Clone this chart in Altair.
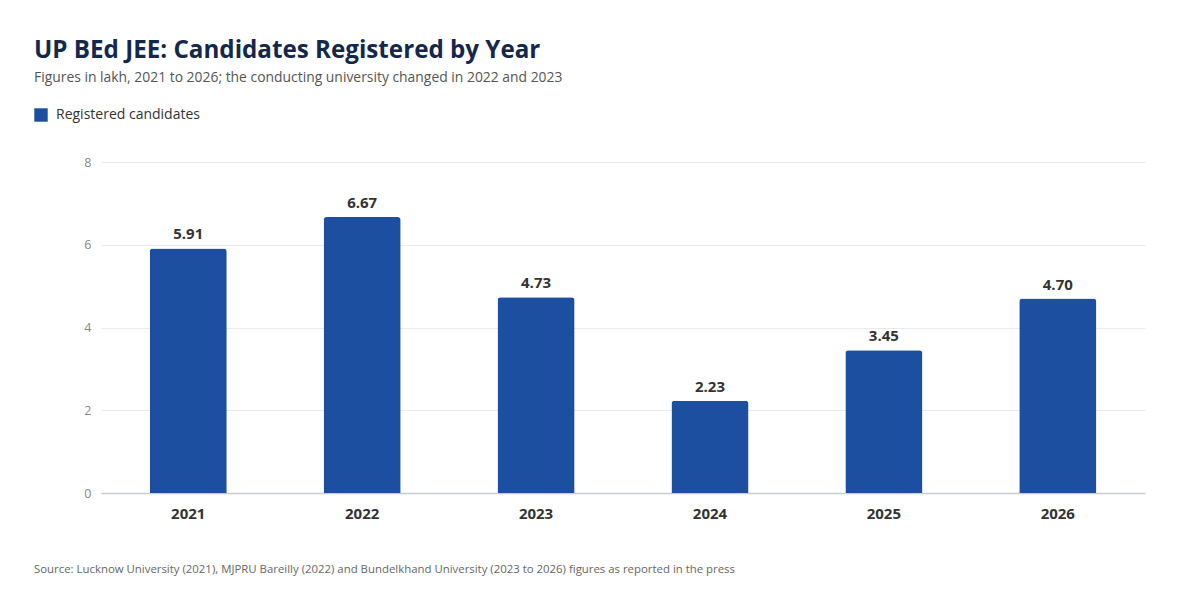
import altair as alt
import pandas as pd

years = ["2021", "2022", "2023", "2024", "2025", "2026"]
registered = [5.91, 6.67, 4.73, 2.23, 3.45, 4.70]
series_name = "Registered candidates"
source_note = ("Source: Lucknow University (2021), MJPRU Bareilly (2022) and Bundelkhand "
               "University (2023 to 2026) figures as reported in the press")

df = pd.DataFrame({"Year": years, "Value": registered, "Series": series_name})

FONT = "Open Sans"
BLUE = "#1c4f9f"
W, H = 1044, 331

x = alt.X("Year:N", sort=years, title=None,
          scale=alt.Scale(paddingInner=0.557, paddingOuter=0.28),
          axis=alt.Axis(labelAngle=0, labelFontSize=15, labelFontWeight="bold",
                        labelColor="#333333", labelPadding=13, ticks=False,
                        domainColor="#c8ccd4", domainWidth=1.5, grid=False,
                        labelFont=FONT))
y = alt.Y("Value:Q", title=None,
          scale=alt.Scale(domain=[0, 8]),
          axis=alt.Axis(values=[0, 2, 4, 6, 8], labelFontSize=12.5, labelColor="#888888",
                        labelPadding=10, ticks=False, domain=False,
                        gridColor="#ebebeb", gridWidth=1, labelFont=FONT))

bars = alt.Chart(df).mark_bar(cornerRadiusTopLeft=3, cornerRadiusTopRight=3).encode(
    x=x, y=y,
    color=alt.Color("Series:N", scale=alt.Scale(range=[BLUE]),
                    legend=alt.Legend(title=None, orient="none", legendX=-67, legendY=-54,
                                      symbolType="square", symbolSize=180,
                                      symbolStrokeWidth=0, labelFontSize=14,
                                      labelColor="#333333", labelFont=FONT,
                                      labelOffset=8)),
)

labels = alt.Chart(df).mark_text(dy=-14, fontSize=15, fontWeight="bold",
                                 color="#333333", font=FONT).encode(
    x=alt.X("Year:N", sort=years),
    y="Value:Q",
    text=alt.Text("Value:Q", format=".2f"),
)

src = alt.Chart(pd.DataFrame({"t": [source_note]})).mark_text(
    align="left", baseline="middle", fontSize=11.4, color="#666666", font=FONT
).encode(x=alt.value(-67), y=alt.value(H + 77), text="t:N")

chart = alt.layer(bars, labels, src).properties(
    width=W, height=H,
    padding={"left": 93, "top": 154, "right": 40, "bottom": 90},
    autosize=alt.AutoSizeParams(type="none"),
    title=alt.Title(
        "UP BEd JEE: Candidates Registered by Year",
        subtitle="Figures in lakh, 2021 to 2026; the conducting university changed in 2022 and 2023",
        anchor="start", frame="group", dx=-67, offset=23,
        font=FONT, fontSize=24.2, fontWeight="bold", color="#14284b",
        subtitleFont=FONT, subtitleFontSize=13.9, subtitleColor="#555555",
        subtitlePadding=8,
    ),
).configure_view(stroke=None)

chart.save("out.html", embed_options={"renderer": "svg", "actions": False})
